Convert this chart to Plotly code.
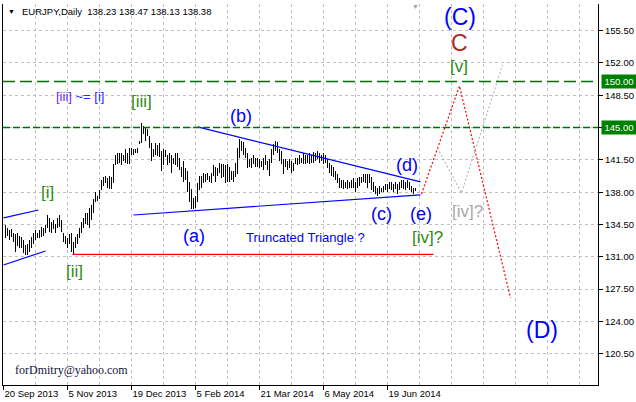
import plotly.graph_objects as go

# ---------------- data (EURJPY daily bars, high / low) ----------------
highs = [
    134.4, 134.1, 133.9, 134.0, 133.6, 133.5, 133.6, 133.3, 133.1, 132.8,
    132.3, 132.4, 132.8, 133.1, 133.6, 133.9, 133.6, 133.9, 134.2, 134.1,
    134.4, 135.5, 135.2, 134.8, 135.0, 134.6, 135.2, 135.5, 135.0, 133.6,
    133.3, 133.0, 133.5, 133.6, 132.6, 133.1, 133.5, 134.1, 134.8, 135.2,
    135.7, 135.8, 136.3, 136.6, 137.3, 138.0, 137.6, 138.2, 139.3, 139.6,
    139.8, 139.5, 139.8, 139.6, 141.1, 142.0, 142.2, 142.2, 142.3, 142.0,
    142.7, 142.2, 142.8, 142.8, 142.7, 142.7, 142.8, 143.5, 145.5, 145.2,
    145.1, 144.9, 144.1, 143.3, 142.7, 143.3, 143.1, 143.3, 142.5, 142.7,
    142.6, 142.0, 142.3,
    142.0, 141.7, 142.3, 142.3, 141.7, 140.7, 141.4, 140.6, 140.3, 139.1,
    138.4, 137.4, 137.6, 139.0, 139.8, 139.8, 140.1, 140.0, 140.1, 139.8,
    140.1, 140.9, 140.7, 140.6, 141.2, 141.1, 141.1, 140.9, 141.1, 140.7,
    140.3, 140.3, 141.2, 142.8, 143.8, 143.6, 143.4, 142.8, 142.3, 141.6,
    141.7, 142.0, 141.7,
    141.7, 141.6, 141.4, 141.7, 142.0, 141.4, 141.6, 142.7, 143.2, 143.5,
    143.4, 142.7, 142.5, 141.6, 141.6, 141.4, 141.6, 141.4, 141.2, 141.7,
    141.7, 142.0, 141.7, 142.2, 142.0, 142.0, 142.3, 142.0, 142.4, 142.2,
    142.5, 142.2, 142.0, 142.2, 142.0, 141.6, 141.2, 140.9, 140.7, 140.3,
    140.0, 139.5,
    139.3, 139.3, 139.1, 139.3, 139.1, 139.3, 139.5, 139.1, 139.5, 139.6,
    139.6, 140.0, 140.0, 140.0, 140.0, 139.6, 139.1, 138.7, 138.5, 138.7,
    138.5, 138.7, 138.9, 138.9, 139.1, 139.1, 138.9, 139.1, 138.9, 139.1,
    139.3, 139.3, 139.1, 139.3, 139.1, 138.7, 138.5, 138.47,
]
lows = [
    133.0, 133.3, 132.8, 133.1, 132.6, 131.5, 132.2, 132.0, 131.9, 131.4,
    131.2, 131.2, 131.5, 132.0, 132.4, 132.8, 133.0, 133.0, 133.1, 133.3,
    133.6, 134.1, 133.7, 133.6, 134.0, 133.6, 134.1, 134.2, 133.7, 132.6,
    132.4, 132.0, 132.4, 131.5, 131.3, 132.0, 132.4, 133.0, 133.6, 134.1,
    134.6, 134.4, 134.1, 135.0, 135.8, 136.9, 137.1, 137.3, 138.2, 138.7,
    139.0, 138.5, 138.4, 138.4, 139.0, 140.9, 141.1, 141.2, 140.9, 141.4,
    141.2, 141.1, 141.1, 142.0, 142.0, 142.2, 142.3, 143.3, 143.3, 144.3,
    143.6, 144.1, 142.8, 141.4, 141.8, 142.0, 141.9, 141.8, 140.3, 140.9,
    141.8, 140.9, 141.2,
    140.1, 141.1, 140.9, 140.7, 140.4, 139.6, 139.1, 139.3, 138.0, 136.9,
    136.2, 136.2, 136.3, 136.9, 138.2, 138.5, 139.0, 139.1, 139.3, 139.1,
    139.0, 139.8, 139.1, 139.8, 140.1, 139.5, 139.6, 139.0, 139.1, 139.1,
    139.3, 139.1, 139.6, 140.0, 141.7, 142.5, 142.0, 141.7, 140.6, 140.7,
    140.6, 141.1, 140.7,
    140.7, 140.6, 140.7, 140.4, 140.9, 140.4, 139.8, 141.2, 142.0, 142.5,
    142.2, 141.4, 141.1, 140.0, 140.7, 140.4, 140.6, 140.1, 140.3, 141.1,
    140.9, 141.1, 141.2, 141.1, 141.1, 141.2, 141.1, 141.2, 141.2, 141.4,
    141.6, 141.2, 141.4, 141.1, 141.2, 140.6, 140.1, 139.8, 139.6, 139.3,
    139.0, 138.5,
    138.5, 138.4, 138.5, 138.4, 138.5, 138.5, 138.5, 138.0, 138.5, 138.7,
    139.0, 139.1, 139.0, 138.5, 139.0, 138.2, 138.0, 137.8, 137.6, 137.8,
    138.0, 138.0, 138.2, 138.0, 138.4, 138.2, 138.0, 138.4, 137.8, 138.2,
    138.5, 138.4, 138.2, 138.5, 138.2, 138.0, 137.8, 138.13,
]

date_ticks = [0, 32, 64, 96, 128, 160, 192]
date_labels = ["20 Sep 2013", "5 Nov 2013", "19 Dec 2013", "5 Feb 2014",
               "21 Mar 2014", "6 May 2014", "19 Jun 2014"]

# wave lines (bar index, price)
tri_upper_x = [97, 208.5]
tri_upper_y = [145.07, 139.11]
tri_lower_x = [65, 208.5]
tri_lower_y = [135.53, 137.72]
chan_upper_x = [0, 17.5]
chan_upper_y = [135.21, 136.07]
chan_lower_x = [0, 21]
chan_lower_y = [130.11, 131.63]
support_x = [34.5, 215]
support_y = [131.27, 131.27]
main_path_x = [209, 228, 253.5]
main_path_y = [137.81, 149.51, 126.54]
alt_path_x = [217, 229, 249.5]
alt_path_y = [142.79, 137.91, 151.78]
level_target = 150.00
level_mid = 145.00

# ---------------- figure ----------------
n = len(highs)
xs = list(range(1, n + 1))
spans = [h - l for h, l in zip(highs, lows)]

fig = go.Figure()
fig.add_trace(go.Bar(x=xs, y=spans, base=lows, width=0.5,
                     marker=dict(color="black", line=dict(width=0)),
                     hoverinfo="skip"))

def line(x, y, color, width=1.2, dash="solid"):
    fig.add_trace(go.Scatter(x=x, y=y, mode="lines",
                             line=dict(color=color, width=width, dash=dash),
                             hoverinfo="skip"))

line(tri_upper_x, tri_upper_y, "#0000ff")
line(tri_lower_x, tri_lower_y, "#0000ff")
line(chan_upper_x, chan_upper_y, "#0000ff")
line(chan_lower_x, chan_lower_y, "#0000ff")
line(support_x, support_y, "#ff0000", 1.3)
line(main_path_x, main_path_y, "#ff0000", 1.2, "2px,2px")
line(alt_path_x, alt_path_y, "#b4b4b4", 1.1, "2px,2px")

fig.add_shape(type="line", xref="paper", x0=0, x1=1, yref="y",
              y0=level_target, y1=level_target,
              line=dict(color="#007000", width=1.5, dash="12px,5px"))
fig.add_shape(type="line", xref="paper", x0=0, x1=1, yref="y",
              y0=level_mid, y1=level_mid,
              line=dict(color="#007000", width=1.5, dash="7px,3px"))

SANS = "Liberation Sans, Arial, sans-serif"
BLUE = "#0000ff"
GREEN = "#2f8a12"

def label(text, x, y, color, size, family=SANS, **kw):
    fig.add_annotation(x=x, y=y, text=text, showarrow=False,
                       font=dict(color=color, size=size, family=family),
                       xanchor=kw.get("xanchor", "center"),
                       yanchor="middle")

label('<span style="color:#6a2cff">[iii]</span> ~= [i]', 38, 148.32, "#2a2aff", 13)
label("[iii]", 69, 147.88, GREEN, 17)
label("[i]", 22, 138.02, GREEN, 17)
label("[ii]", 35.5, 129.46, GREEN, 17)
label("(a)", 95, 133.25, BLUE, 18)
label("(b)", 118.5, 146.26, BLUE, 18)
label("(c)", 189, 135.64, BLUE, 18)
label("(d)", 201.5, 140.95, BLUE, 18)
label("(e)", 208.5, 135.64, BLUE, 18)
label("[iv]?", 212, 133.04, GREEN, 17)
label("Truncated Triangle ?", 151, 133.14, BLUE, 13)
label("(C)", 228, 156.98, BLUE, 23)
label("C", 228, 154.17, "#b22a1e", 23)
label("[v]", 227.5, 151.57, GREEN, 17)
label("[iv]?", 232, 135.86, "#a8a8a8", 17)
label("(D)", 269, 123.07, BLUE, 23)
label("forDmitry@yahoo.com", 4.5, 118.73, "#14143c", 12,
      family="Liberation Serif, Times New Roman, serif", xanchor="left")
label("EURJPY,Daily  138.23 138.47 138.13 138.38", 8, 157.63, "black", 9.5,
      xanchor="left")
label("▼", 4, 157.63, "black", 7)
label("▼", 206, 158.1, "#a0a0a0", 7)

for lvl in (level_target, level_mid):
    fig.add_annotation(xref="paper", x=1, xanchor="left", xshift=3,
                       y=lvl, yref="y", yanchor="middle",
                       text=f"{lvl:.2f}", showarrow=False,
                       font=dict(color="white", size=9.5, family=SANS),
                       bgcolor="#008000", width=34, height=13, borderpad=0)

GRID = "#c0c0c0"
fig.update_layout(
    width=636, height=402,
    margin=dict(l=3, r=38, t=4, b=17),
    paper_bgcolor="white", plot_bgcolor="white",
    showlegend=False, bargap=0,
    xaxis=dict(range=[-0.25, 297.25], tickvals=date_ticks, ticktext=date_labels,
               ticklabelposition="outside right",
               ticks="outside", ticklen=4, tickcolor="black",
               showline=True, linecolor="black", linewidth=1, mirror=False,
               showgrid=True, gridcolor=GRID, griddash="3px,3px", gridwidth=1,
               minor=dict(tick0=0, dtick=16, showgrid=True, gridcolor=GRID,
                          griddash="3px,3px", gridwidth=1),
               zeroline=False, fixedrange=True, automargin=False,
               tickfont=dict(size=9.5, family=SANS, color="black")),
    yaxis=dict(range=[117.11, 158.39], side="right", tick0=120.5, dtick=3.5,
               tickformat=".2f", ticks="outside", ticklen=4, tickcolor="black",
               showline=True, linecolor="black", linewidth=1, mirror=True,
               showgrid=True, gridcolor=GRID, griddash="3px,3px", gridwidth=1,
               zeroline=False, fixedrange=True, automargin=False,
               tickfont=dict(size=9.5, family=SANS, color="black")),
)

fig.write_html("out.html", config={"displayModeBar": False},
               post_script="document.body.style.margin='0';"
                           "document.body.style.overflow='hidden';")
